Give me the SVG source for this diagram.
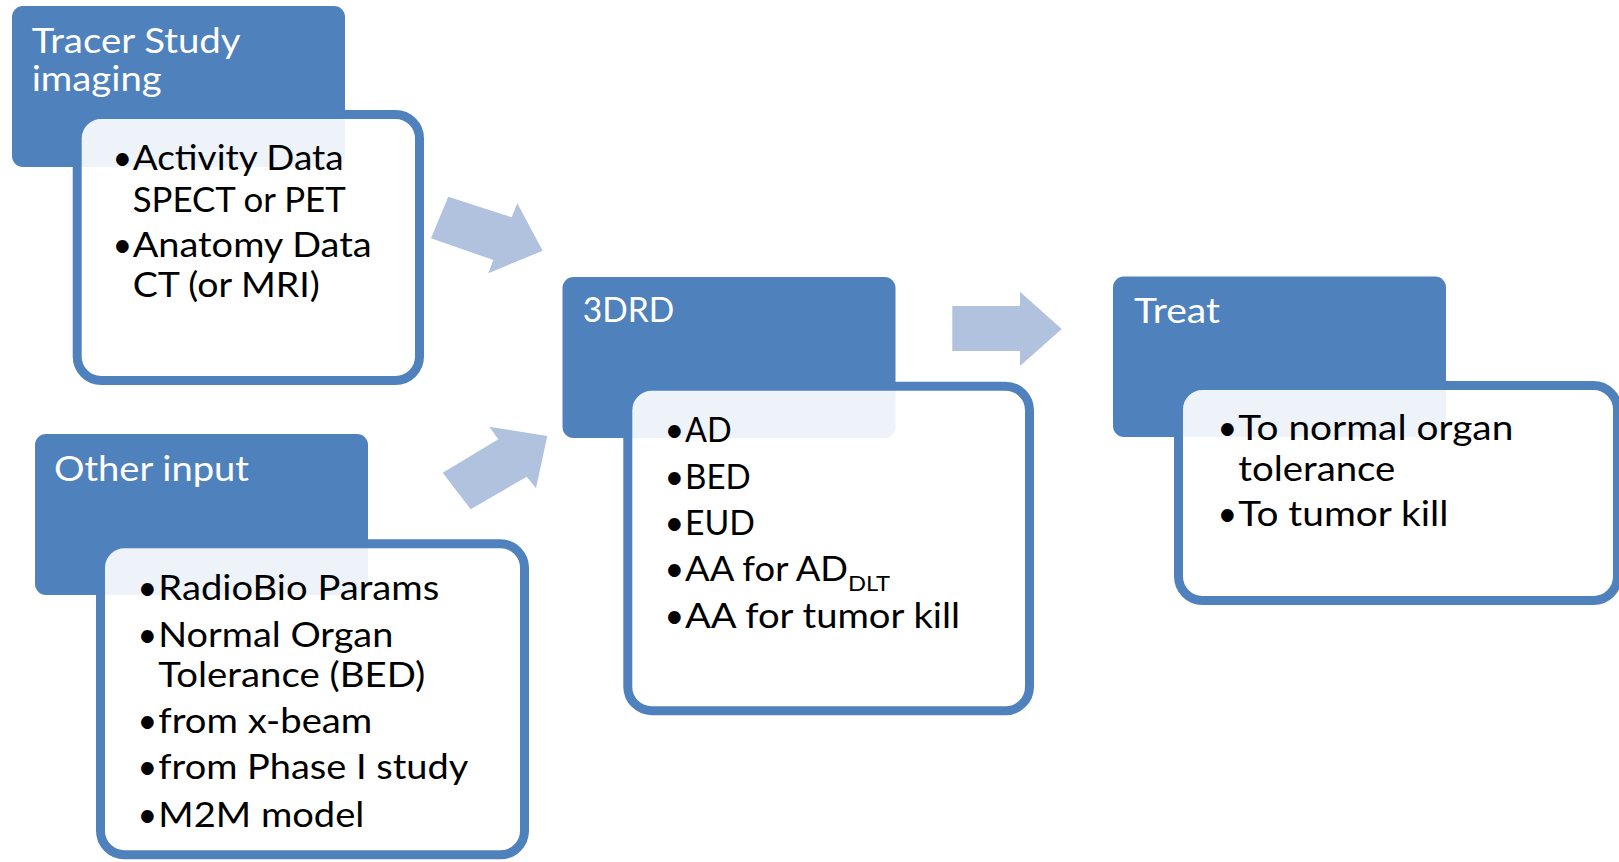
<svg xmlns="http://www.w3.org/2000/svg" width="1619" height="862" viewBox="0 0 1619 862">
<style>
.hdr{fill:#4F81BD}
.box{fill:#FFFFFF;fill-opacity:0.9;stroke:#4F81BD;stroke-width:9}
.ht{font-family:Lato,"Open Sans",sans-serif;font-size:34px;fill:#FFFFFF}
.bt{font-family:Lato,"Open Sans",sans-serif;font-size:34px;fill:#000000}
.arr{fill:#B0C2DE}
</style>
<rect width="1619" height="862" fill="#FFFFFF"/>
<g id="connectors">
<polygon class="arr" points="448.3,196.7 511.7,217.3 517.3,203.3 542.7,250.7 488.3,273.3 493.3,260 431,238.3"/>
<polygon class="arr" points="470.7,509.3 442.7,472.7 498.3,439.3 489.3,426.7 547.3,436 536,488.3 526.7,476.7"/>
<polygon class="arr" points="952.3,306 1020,306 1020,291.7 1061.7,329 1020,366 1020,351 952.3,351"/>
</g>
<g id="tracer">
<rect class="hdr" x="12" y="6" width="333" height="161" rx="11"/>
<rect class="box" x="77.2" y="114.5" width="342.3" height="266" rx="24"/>
<text class="ht"><tspan x="31.7" y="53.3" textLength="209" lengthAdjust="spacingAndGlyphs">Tracer Study</tspan><tspan x="31.7" y="91" textLength="130" lengthAdjust="spacingAndGlyphs">imaging</tspan></text>
<text class="bt"><tspan x="112.5" y="170">•</tspan><tspan x="132.7" y="170" textLength="211" lengthAdjust="spacingAndGlyphs">Activity Data</tspan><tspan x="132.7" y="211.7" textLength="213" lengthAdjust="spacingAndGlyphs">SPECT or PET</tspan></text>
<text class="bt"><tspan x="112.5" y="257.3">•</tspan><tspan x="132.7" y="257.3" textLength="239" lengthAdjust="spacingAndGlyphs">Anatomy Data</tspan><tspan x="132.7" y="296.7" textLength="187" lengthAdjust="spacingAndGlyphs">CT (or MRI)</tspan></text>
</g>
<g id="other">
<rect class="hdr" x="35" y="434" width="333" height="161" rx="11"/>
<rect class="box" x="100.5" y="543.8" width="424" height="311" rx="24"/>
<text class="ht" x="54" y="481" textLength="195" lengthAdjust="spacingAndGlyphs">Other input</text>
<text class="bt"><tspan x="137.5" y="600">•</tspan><tspan x="158.3" y="600" textLength="281" lengthAdjust="spacingAndGlyphs">RadioBio Params</tspan></text>
<text class="bt"><tspan x="137.5" y="647.3">•</tspan><tspan x="158.3" y="647.3" textLength="235" lengthAdjust="spacingAndGlyphs">Normal Organ</tspan><tspan x="158.3" y="686.7" textLength="267" lengthAdjust="spacingAndGlyphs">Tolerance (BED)</tspan></text>
<text class="bt"><tspan x="137.5" y="733.3">•</tspan><tspan x="158.3" y="733.3" textLength="214" lengthAdjust="spacingAndGlyphs">from x-beam</tspan></text>
<text class="bt"><tspan x="137.5" y="779">•</tspan><tspan x="158.3" y="779" textLength="310" lengthAdjust="spacingAndGlyphs">from Phase I study</tspan></text>
<text class="bt"><tspan x="137.5" y="826.7">•</tspan><tspan x="158.3" y="826.7" textLength="206" lengthAdjust="spacingAndGlyphs">M2M model</tspan></text>
</g>
<g id="threedrd">
<rect class="hdr" x="562.5" y="277" width="333" height="161" rx="11"/>
<rect class="box" x="627.8" y="386.2" width="401.7" height="324.5" rx="24"/>
<text class="ht" x="582.7" y="322.3" textLength="91.7" lengthAdjust="spacingAndGlyphs">3DRD</text>
<text class="bt"><tspan x="664.5" y="441.7">•</tspan><tspan x="685" y="441.7" textLength="46.7" lengthAdjust="spacingAndGlyphs">AD</tspan></text>
<text class="bt"><tspan x="664.5" y="489">•</tspan><tspan x="685" y="489" textLength="65.7" lengthAdjust="spacingAndGlyphs">BED</tspan></text>
<text class="bt"><tspan x="664.5" y="535">•</tspan><tspan x="685" y="535" textLength="70" lengthAdjust="spacingAndGlyphs">EUD</tspan></text>
<text class="bt"><tspan x="664.5" y="581">•</tspan><tspan x="685" y="581" textLength="163" lengthAdjust="spacingAndGlyphs">AA for AD</tspan><tspan x="848" y="591" font-size="22" textLength="42" lengthAdjust="spacingAndGlyphs">DLT</tspan></text>
<text class="bt"><tspan x="664.5" y="627.7">•</tspan><tspan x="685" y="627.7" textLength="275" lengthAdjust="spacingAndGlyphs">AA for tumor kill</tspan></text>
</g>
<g id="treat">
<rect class="hdr" x="1113" y="276.5" width="333" height="160.5" rx="11"/>
<rect class="box" x="1178.5" y="385.5" width="439" height="215" rx="24"/>
<text class="ht" x="1134" y="323.3" textLength="86" lengthAdjust="spacingAndGlyphs">Treat</text>
<text class="bt"><tspan x="1217.5" y="440">•</tspan><tspan x="1238.3" y="440" textLength="275" lengthAdjust="spacingAndGlyphs">To normal organ</tspan><tspan x="1238.3" y="480.7" textLength="157" lengthAdjust="spacingAndGlyphs">tolerance</tspan></text>
<text class="bt"><tspan x="1217.5" y="526">•</tspan><tspan x="1238.3" y="526" textLength="210" lengthAdjust="spacingAndGlyphs">To tumor kill</tspan></text>
</g>
</svg>
